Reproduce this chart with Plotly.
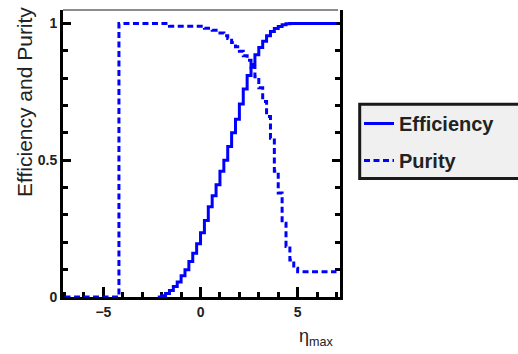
import plotly.graph_objects as go

# Bin edges in eta_max (width 0.2)
bin_edges = [-7.0, -6.8, -6.6, -6.4, -6.2, -6.0, -5.8, -5.6, -5.4, -5.2,
             -5.0, -4.8, -4.6, -4.4, -4.2, -4.0, -3.8, -3.6, -3.4, -3.2,
             -3.0, -2.8, -2.6, -2.4, -2.2, -2.0, -1.8, -1.6, -1.4, -1.2,
             -1.0, -0.8, -0.6, -0.4, -0.2, 0.0, 0.2, 0.4, 0.6, 0.8,
             1.0, 1.2, 1.4, 1.6, 1.8, 2.0, 2.2, 2.4, 2.6, 2.8,
             3.0, 3.2, 3.4, 3.6, 3.8, 4.0, 4.2, 4.4, 4.6, 4.8,
             5.0, 5.2, 5.4, 5.6, 5.8, 6.0, 6.2, 6.4, 6.6, 6.8, 7.0]

# Efficiency per bin (None = not drawn)
efficiency = [None] * 24 + [
    0.0, 0.005, 0.013, 0.024, 0.038, 0.055, 0.078, 0.10, 0.13, 0.16,
    0.195, 0.235, 0.28, 0.33, 0.37, 0.41, 0.46, 0.50, 0.55, 0.60,
    0.65, 0.705, 0.76, 0.81, 0.85, 0.885, 0.912, 0.935, 0.955, 0.970,
    0.981, 0.989, 0.995, 0.999, 1.0, 1.0, 1.0, 1.0, 1.0, 1.0,
    1.0, 1.0, 1.0, 1.0, 1.0, 1.0]

# Purity per bin
purity = [0.0] * 14 + [1.0] * 13 + [0.99] * 9 + [
    0.982, 0.982, 0.975, 0.975, 0.965, 0.955, 0.945, 0.93, 0.915, 0.898,
    0.882, 0.865, 0.84, 0.805, 0.765, 0.715, 0.66, 0.58, 0.46, 0.38,
    0.27, 0.185, 0.135, 0.105] + [0.092] * 10

x_ticks = [-5, 0, 5]
y_ticks = [0, 0.5, 1]
y_ticktext = ["0", "0.5", "1"]

BLUE = "#0000ff"
TXT = "#222222"
FONT = "Liberation Sans, Arial, sans-serif"

fig = go.Figure()
fig.add_trace(go.Scatter(
    x=bin_edges, y=efficiency + [efficiency[-1]], mode="lines", line_shape="hv",
    line=dict(color=BLUE, width=3), name="Efficiency", legend="legend",
    showlegend=True, connectgaps=False))
fig.add_trace(go.Scatter(
    x=bin_edges, y=purity + [purity[-1]], mode="lines", line_shape="hv",
    line=dict(color=BLUE, width=3, dash="6px,3.5px"), name="Purity", legend="legend2",
    showlegend=True))

W, H = 518, 354
L, R, T, B = 63, 178, 10, 57
pw, ph = W - L - R, H - T - B

def px2paper_x(px):
    return (px - L) / pw

def px2paper_y(py):
    return (H - B - py) / ph

fig.update_layout(
    width=W, height=H, showlegend=True,
    margin=dict(l=L, r=R, t=T, b=B, pad=0),
    paper_bgcolor="white", plot_bgcolor="white",
    font=dict(family=FONT, color=TXT),
    xaxis=dict(range=[-7.08, 7.18], showgrid=False, zeroline=False,
               showline=True, linewidth=3, linecolor="black", layer="below traces",
               ticks="inside", tickvals=x_ticks, ticklen=10, tickwidth=2.5, tickcolor="black",
               minor=dict(dtick=1, tick0=0, ticks="inside", ticklen=5, tickwidth=2.5, tickcolor="black"),
               tickfont=dict(size=14, family=FONT, color=TXT, weight="bold")),
    yaxis=dict(range=[0, 1.049], showgrid=False, zeroline=False,
               showline=True, linewidth=3, linecolor="black", mirror="allticks",
               layer="below traces",
               ticks="inside", tickvals=y_ticks, ticktext=y_ticktext, ticklen=8, tickwidth=2.5,
               tickcolor="black",
               minor=dict(dtick=0.1, tick0=0, ticks="inside", ticklen=5, tickwidth=2.5, tickcolor="black"),
               tickfont=dict(size=14, family=FONT, color=TXT, weight="bold")),
    legend=dict(x=px2paper_x(359), y=px2paper_y(104), xanchor="left", yanchor="top",
                bgcolor="rgba(0,0,0,0)", borderwidth=0, visible=True,
                font=dict(size=20, family=FONT, color=TXT, weight="bold")),
    legend2=dict(x=px2paper_x(359), y=px2paper_y(141), xanchor="left", yanchor="top",
                 bgcolor="rgba(0,0,0,0)", borderwidth=0, visible=True,
                 font=dict(size=20, family=FONT, color=TXT, weight="bold")),
    shapes=[
        dict(type="line", xref="paper", yref="paper", x0=0, x1=px2paper_x(338),
             y0=1, y1=1, line=dict(color="#666666", width=1.5)),
        dict(type="rect", xref="paper", yref="paper",
             x0=px2paper_x(359.7), x1=px2paper_x(540),
             y0=px2paper_y(178.5), y1=px2paper_y(104.3),
             fillcolor="#f0f0f0", line=dict(color="#1a1a1a", width=3), layer="above"),
    ],
    annotations=[
        dict(text="Efficiency and Purity", textangle=-90, xref="paper", yref="paper",
             x=px2paper_x(24), y=px2paper_y(102), xanchor="center", yanchor="middle",
             showarrow=False, font=dict(size=21, family=FONT, color=TXT)),
        dict(text="η<sub>max</sub>", xref="paper", yref="paper",
             x=px2paper_x(316), y=px2paper_y(337), xanchor="center", yanchor="middle",
             showarrow=False, font=dict(size=18, family=FONT, color=TXT)),
    ],
)

fig.write_html("out.html")
